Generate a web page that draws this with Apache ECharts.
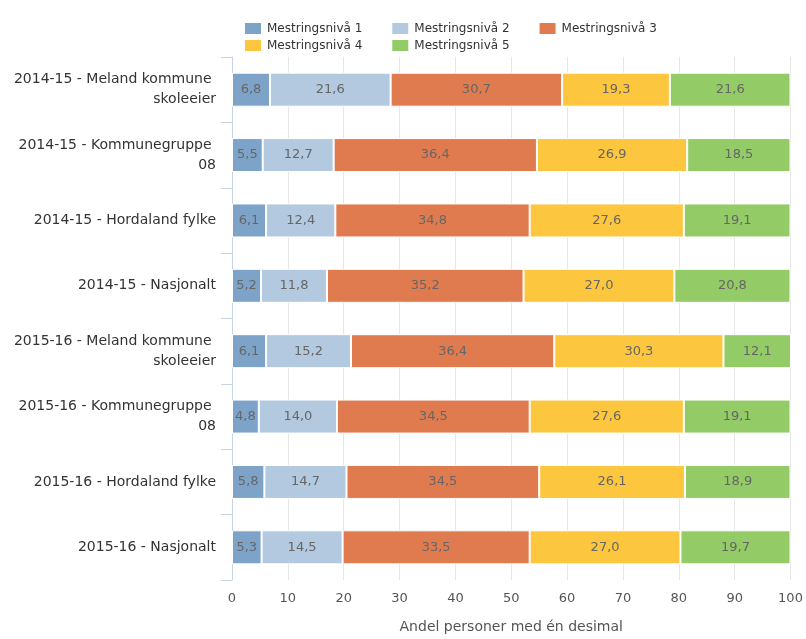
<!DOCTYPE html>
<html>
<head>
<meta charset="utf-8">
<script src="https://cdn.jsdelivr.net/npm/echarts@6/dist/echarts.min.js"></script>
<style>
html,body{margin:0;padding:0;background:#fff;}
#chart{width:806px;height:639px;}
</style>
</head>
<body>
<div id="chart"></div>
<script>
var categories = [
  "2014-15 - Meland kommune skoleeier",
  "2014-15 - Kommunegruppe 08",
  "2014-15 - Hordaland fylke",
  "2014-15 - Nasjonalt",
  "2015-16 - Meland kommune skoleeier",
  "2015-16 - Kommunegruppe 08",
  "2015-16 - Hordaland fylke",
  "2015-16 - Nasjonalt"
];
var seriesNames = ["Mestringsnivå 1","Mestringsnivå 2","Mestringsnivå 3","Mestringsnivå 4","Mestringsnivå 5"];
var niva1 = [6.8, 5.5, 6.1, 5.2, 6.1, 4.8, 5.8, 5.3];
var niva2 = [21.6, 12.7, 12.4, 11.8, 15.2, 14.0, 14.7, 14.5];
var niva3 = [30.7, 36.4, 34.8, 35.2, 36.4, 34.5, 34.5, 33.5];
var niva4 = [19.3, 26.9, 27.6, 27.0, 30.3, 27.6, 26.1, 27.0];
var niva5 = [21.6, 18.5, 19.1, 20.8, 12.1, 19.1, 18.9, 19.7];
var xTicks = [0,10,20,30,40,50,60,70,80,90,100];

var colors = ["#7ea3c9","#b2c9df","#e07b4f","#fcc63f","#93cb66"];
var seriesData = [niva1, niva2, niva3, niva4, niva5];

var series = seriesNames.map(function(name, i){
  return {
    name: name,
    type: 'bar',
    stack: 'total',
    barWidth: 34,
    data: seriesData[i],
    itemStyle: {color: colors[i], borderColor: '#ffffff', borderWidth: 1},
    label: {
      show: true,
      position: 'inside',
      color: '#666666',
      fontFamily: 'DejaVu Sans',
      fontSize: 13,
      formatter: function(p){ return p.value.toFixed(1).replace('.', ','); }
    }
  };
});

var legendCommon = {
  itemWidth: 18,
  itemHeight: 13,
  itemGap: 28,
  icon: 'rect',
  orient: 'horizontal',
  textStyle: {color: '#333', fontFamily: 'DejaVu Sans', fontSize: 12}
};

var chart = echarts.init(document.getElementById('chart'), null, {renderer:'canvas'});
chart.setOption({
  animation: false,
  backgroundColor: '#ffffff',
  color: colors,
  legend: [
    Object.assign({}, legendCommon, {left: 238, top: 16, data: seriesNames.slice(0, 3)}),
    Object.assign({}, legendCommon, {left: 238, top: 33, data: seriesNames.slice(3)})
  ],
  grid: {left: 232, right: 15.5, top: 57, bottom: 51, containLabel: false},
  xAxis: {
    type: 'value',
    min: 0, max: 100, interval: 10,
    axisLine: {show: false},
    axisTick: {show: false},
    splitLine: {show: true, lineStyle: {color: '#e6e6e6', width: 1}},
    axisLabel: {
      color: '#555', fontFamily: 'DejaVu Sans', fontSize: 13, margin: 12,
      formatter: function(v){ return xTicks.indexOf(v) >= 0 ? String(v) : ''; }
    },
    name: 'Andel personer med én desimal',
    nameLocation: 'middle',
    nameGap: 40,
    nameTextStyle: {color: '#555', fontFamily: 'DejaVu Sans', fontSize: 14}
  },
  yAxis: {
    type: 'category',
    inverse: true,
    data: categories,
    axisLine: {show: true, lineStyle: {color: '#c6d4e4', width: 1}},
    axisTick: {show: true, length: 11, lineStyle: {color: '#c6d4e4'}},
    axisLabel: {
      color: '#333', fontFamily: 'DejaVu Sans', fontSize: 14, margin: 16,
      width: 206, overflow: 'break', lineHeight: 20, align: 'right'
    }
  },
  series: series
});
</script>
</body>
</html>
